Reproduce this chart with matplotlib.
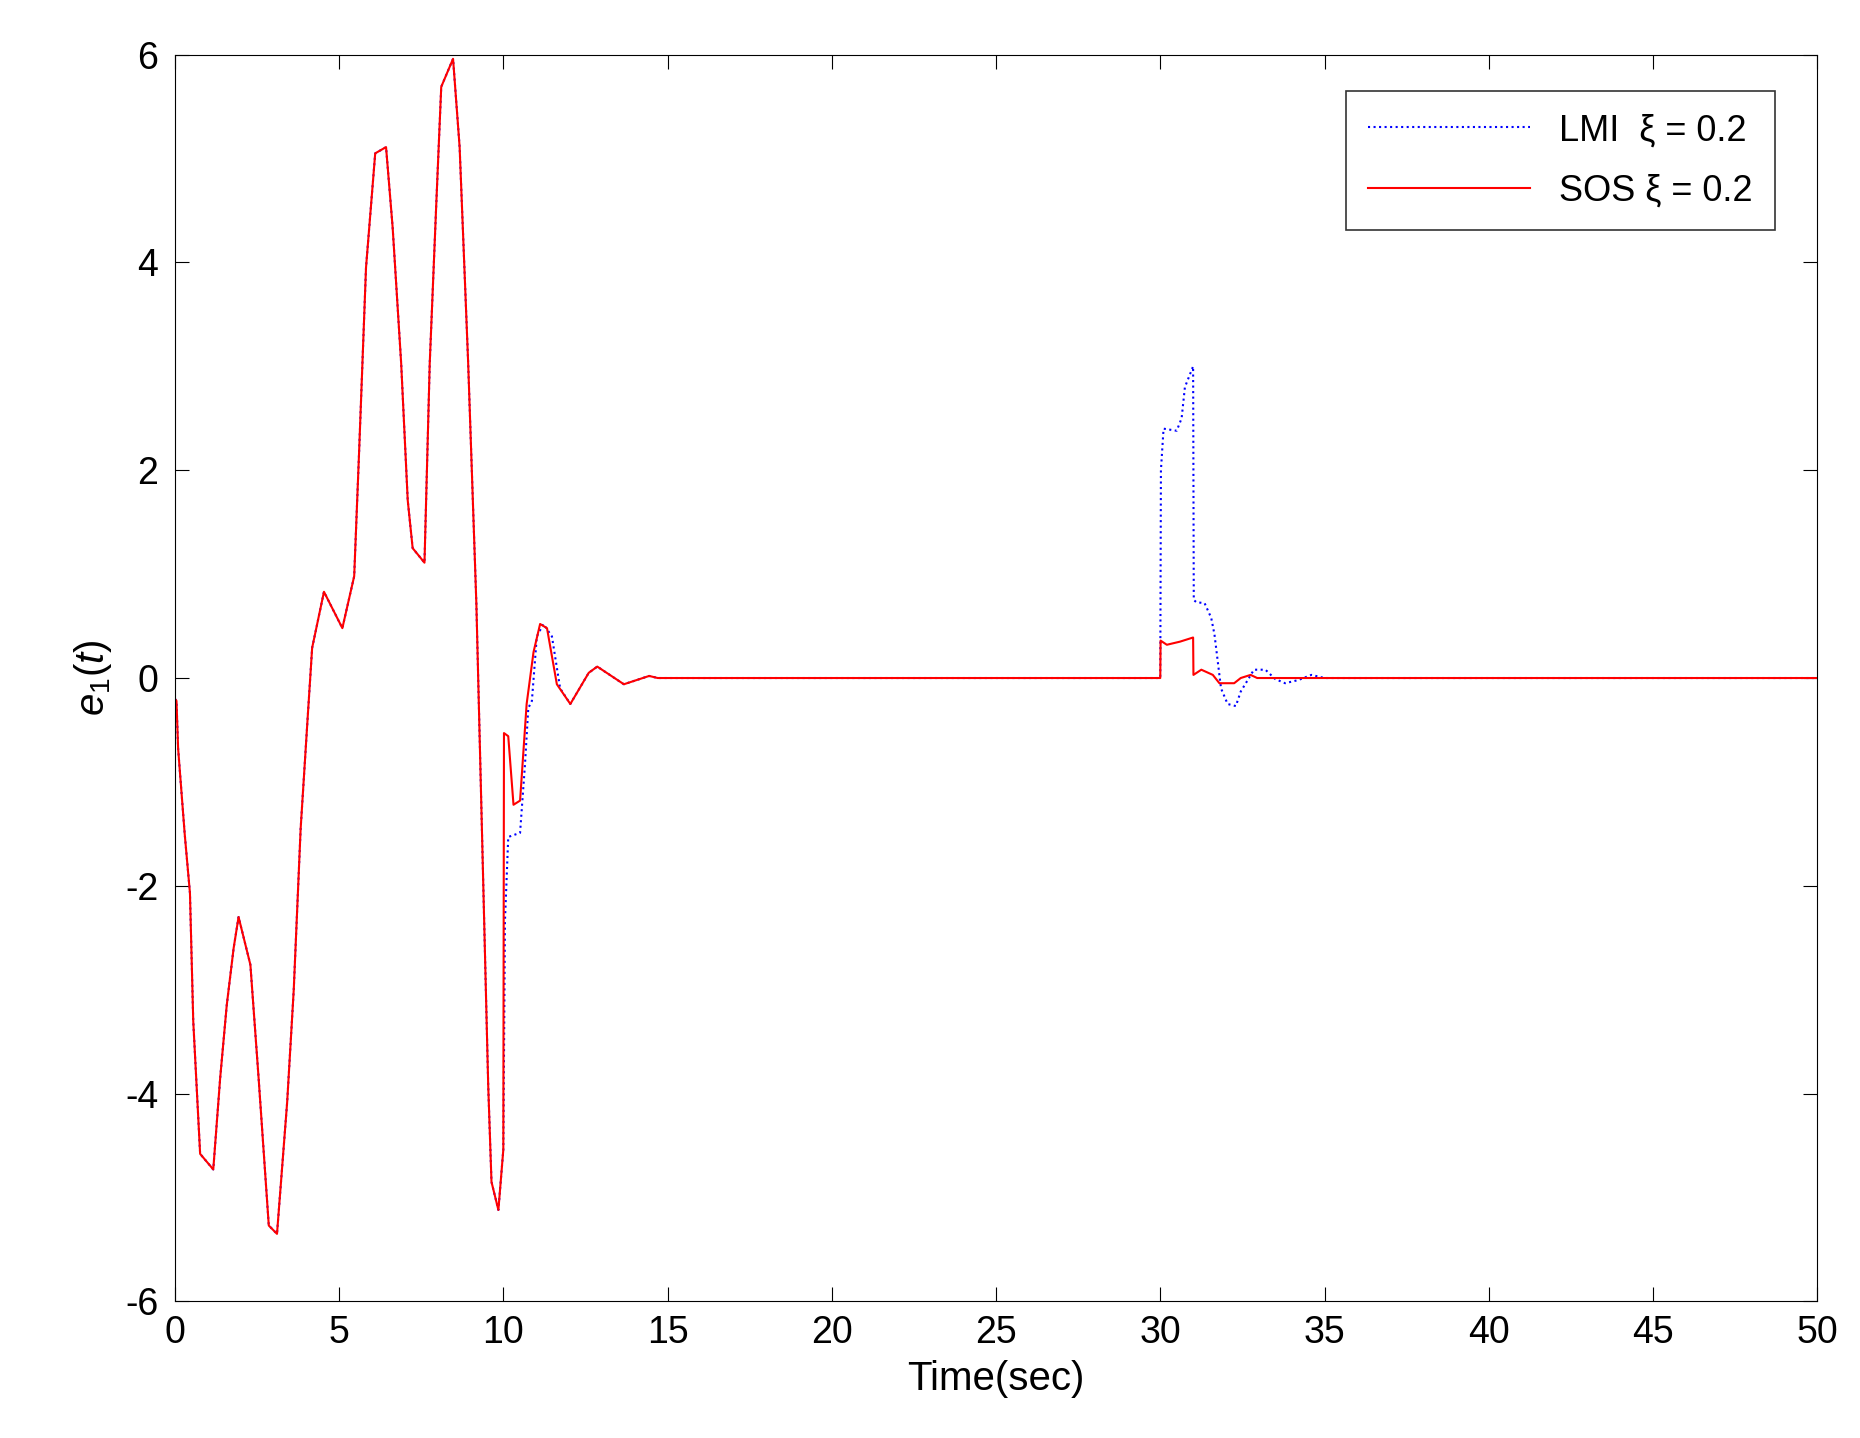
import matplotlib
matplotlib.use("Agg")
import matplotlib.pyplot as plt
import numpy as np

plt.rcParams['font.family'] = ['Liberation Sans', 'DejaVu Sans']
plt.rcParams['axes.unicode_minus'] = False
plt.rcParams['mathtext.fontset'] = 'custom'
plt.rcParams['mathtext.rm'] = 'Liberation Sans'
plt.rcParams['mathtext.it'] = 'Liberation Sans:italic'

# SOS (red) trajectory
sos_t = [0, 0.05, 0.1, 0.3, 0.46, 0.56, 0.77, 1.17, 1.38, 1.58, 1.79, 1.94, 2.3, 2.55, 2.86, 3.11,
         3.42, 3.62, 3.83, 4.03, 4.18, 4.54, 5.1, 5.46, 5.61, 5.82, 6.1, 6.43, 6.63, 6.89, 7.09,
         7.24, 7.6, 7.76, 7.96, 8.11, 8.47, 8.67, 8.93, 9.18, 9.39, 9.54, 9.64, 9.85, 10.0, 10.02,
         10.15, 10.31, 10.51, 10.71, 10.92, 11.12, 11.33, 11.63, 12.04, 12.6, 12.86, 13.67, 14.44, 14.7,
         30.0, 30.01, 30.2, 30.6, 31.0, 31.01, 31.25, 31.6, 31.8, 32.25, 32.45, 32.75, 32.95, 50]
sos_v = [-0.2, -0.22, -0.68, -1.5, -2.07, -3.3, -4.58, -4.73, -3.85, -3.15, -2.6, -2.3, -2.76, -3.85, -5.27, -5.35,
         -4.08, -3.0, -1.45, -0.45, 0.29, 0.83, 0.48, 0.98, 2.18, 3.95, 5.05, 5.11, 4.34, 3.03, 1.71,
         1.25, 1.11, 3.03, 4.57, 5.69, 5.96, 5.11, 3.03, 0.71, -1.99, -3.92, -4.85, -5.12, -4.54, -0.53,
         -0.56, -1.22, -1.18, -0.25, 0.25, 0.52, 0.48, -0.06, -0.25, 0.05, 0.11, -0.06, 0.02, 0.0,
         0.0, 0.36, 0.32, 0.35, 0.39, 0.03, 0.08, 0.03, -0.05, -0.05, 0.0, 0.03, 0.0, 0.0]

# LMI (blue) trajectory
lmi_t = [0, 0.05, 0.1, 0.3, 0.46, 0.56, 0.77, 1.17, 1.38, 1.58, 1.79, 1.94, 2.3, 2.55, 2.86, 3.11,
         3.42, 3.62, 3.83, 4.03, 4.18, 4.54, 5.1, 5.46, 5.61, 5.82, 6.1, 6.43, 6.63, 6.89, 7.09,
         7.24, 7.6, 7.76, 7.96, 8.11, 8.47, 8.67, 8.93, 9.18, 9.39, 9.54, 9.64, 9.85, 10.0, 10.05,
         10.15, 10.51, 10.66, 10.76, 10.87, 11.02, 11.22, 11.48, 11.73, 12.04, 12.6, 12.86, 13.67, 14.44, 14.7,
         30.0, 30.02, 30.1, 30.5, 30.65, 30.75, 31.0, 31.02, 31.1, 31.35, 31.55, 31.65, 31.75, 31.85,
         32.05, 32.3, 32.45, 32.7, 32.85, 33.2, 33.5, 33.8, 34.2, 34.6, 35.0, 50]
lmi_v = [-0.2, -0.22, -0.68, -1.5, -2.07, -3.3, -4.58, -4.73, -3.85, -3.15, -2.6, -2.3, -2.76, -3.85, -5.27, -5.35,
         -4.08, -3.0, -1.45, -0.45, 0.29, 0.83, 0.48, 0.98, 2.18, 3.95, 5.05, 5.11, 4.34, 3.03, 1.71,
         1.25, 1.11, 3.03, 4.57, 5.69, 5.96, 5.11, 3.03, 0.71, -1.99, -3.92, -4.85, -5.12, -4.54, -2.34,
         -1.53, -1.49, -0.83, -0.29, -0.22, 0.4, 0.52, 0.4, -0.1, -0.25, 0.05, 0.11, -0.06, 0.02, 0.0,
         0.0, 2.0, 2.4, 2.38, 2.5, 2.8, 3.0, 0.75, 0.73, 0.72, 0.58, 0.42, 0.16, -0.1,
         -0.25, -0.27, -0.13, 0.0, 0.08, 0.08, -0.01, -0.05, -0.02, 0.03, 0.0, 0.0]

fig = plt.figure(figsize=(18.6, 14.38), dpi=100)
ax = fig.add_axes([0.094, 0.095, 0.883, 0.867])
ax.plot(lmi_t, lmi_v, color='blue', linestyle=':', linewidth=1.5, label='LMI  ξ = 0.2')
ax.plot(sos_t, sos_v, color='red', linestyle='-', linewidth=1.5, label='SOS ξ = 0.2')
ax.set_xlim(0, 50)
ax.set_ylim(-6, 6)
ax.set_xticks(np.arange(0, 51, 5))
ax.set_yticks(np.arange(-6, 7, 2))
ax.tick_params(direction='in', top=True, right=True, labelsize=27, length=10)
ax.tick_params(axis='x', pad=10)
ax.tick_params(axis='y', pad=12)
ax.set_xlabel('Time(sec)', fontsize=29, labelpad=6)
ax.set_ylabel(r'$e_1(t)$', fontsize=29, labelpad=8)
leg = ax.legend(loc='upper right', fontsize=26, frameon=True, fancybox=False,
                edgecolor='black', handlelength=4.5, borderpad=0.6, labelspacing=0.7,
                bbox_to_anchor=(0.985, 0.985))
leg.get_frame().set_linewidth(1.2)
fig.savefig('out.png', dpi=100)
